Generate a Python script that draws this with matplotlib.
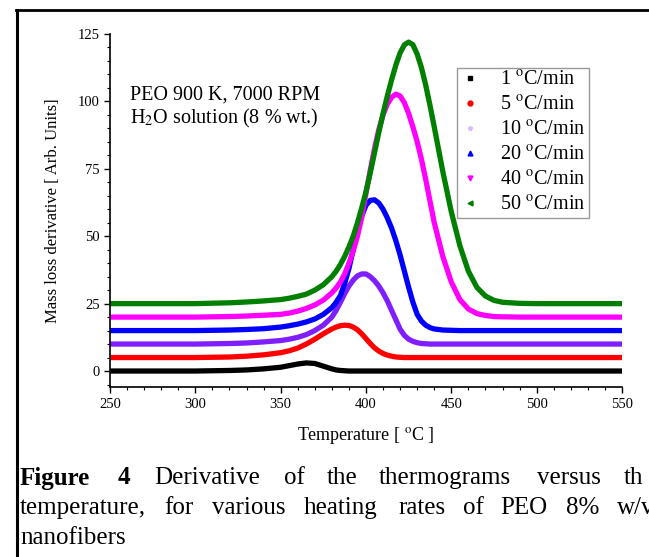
import matplotlib
matplotlib.use('Agg')
import matplotlib.pyplot as plt
from matplotlib.lines import Line2D
from matplotlib.ticker import MultipleLocator

plt.rcParams['font.family'] = ['Liberation Serif', 'DejaVu Serif']
plt.rcParams['mathtext.fontset'] = 'stix'

# temperature grid (degC), finer around the peaks
temp = [250, 300, 320, 330, 340, 350, 355, 360, 365, 370, 375,
        380, 382.5, 385, 387.5, 390, 392.5, 395, 397.5, 400, 402.5, 405, 407.5, 410,
        412.5, 415, 417.5, 420, 422.5, 425, 427.5, 430, 432.5, 435, 437.5, 440,
        445, 450, 455, 460, 465, 470, 475, 480, 490, 500, 550]

# mass loss derivative for each heating rate (arb. units, curves offset by 5)
r1 = [0, 0, 0.2, 0.4, 0.8, 1.4, 2.0, 2.6, 3.0, 2.8, 1.8,
      0.8, 0.4, 0.2, 0.1, 0, 0, 0, 0, 0, 0, 0, 0, 0,
      0, 0, 0, 0, 0, 0, 0, 0, 0, 0, 0, 0,
      0, 0, 0, 0, 0, 0, 0, 0, 0, 0, 0]
r5 = [5, 5, 5.2, 5.5, 6.0, 6.8, 7.5, 8.5, 10.0, 11.8, 13.8,
      15.6, 16.3, 16.8, 17.0, 16.9, 16.3, 15.3, 13.8, 12.0, 10.2, 8.6, 7.4, 6.5,
      5.9, 5.5, 5.2, 5.1, 5.0, 5, 5, 5, 5, 5, 5, 5,
      5, 5, 5, 5, 5, 5, 5, 5, 5, 5, 5]
r10 = [10, 10, 10.2, 10.4, 10.8, 11.3, 11.8, 12.5, 13.5, 15.0, 17.0,
       20.0, 22.5, 25.5, 28.7, 31.5, 33.7, 35.3, 36.0, 36.0, 35.0, 33.5, 31.5, 29.0,
       26.0, 22.5, 19.0, 15.5, 13.2, 11.8, 11.0, 10.5, 10.2, 10.1, 10.0, 10.0,
       10, 10, 10, 10, 10, 10, 10, 10, 10, 10, 10]
r20 = [15, 15, 15.2, 15.4, 15.7, 16.3, 16.8, 17.4, 18.2, 19.3, 21.0,
       23.5, 25.5, 28.0, 32.5, 38.0, 45.0, 52.0, 57.5, 61.5, 63.3, 63.5, 62.3, 60.0,
       56.8, 53.0, 48.3, 43.0, 37.0, 31.0, 25.5, 21.0, 18.5, 17.0, 16.1, 15.6,
       15.2, 15.1, 15.0, 15, 15, 15, 15, 15, 15, 15, 15]
r40 = [20, 20, 20.2, 20.4, 20.7, 21.0, 21.5, 22.2, 23.2, 24.5, 26.3,
       29.0, 30.8, 33.0, 36.0, 40.0, 44.5, 50.0, 57.0, 66.0, 74.5, 82.5, 89.5, 95.0,
       99.0, 101.5, 102.7, 102.0, 99.5, 95.5, 90.5, 85.0, 78.5, 71.0, 63.0, 55.0,
       42.5, 33.0, 26.5, 23.0, 21.3, 20.6, 20.2, 20.1, 20.0, 20.0, 20.0]
r50 = [25, 25, 25.3, 25.6, 26.0, 26.5, 27.0, 27.7, 28.5, 30.0, 32.0,
       35.0, 37.0, 39.5, 42.5, 46.0, 50.0, 55.0, 60.5, 66.5, 73.5, 81.0, 88.5, 95.5,
       102.0, 108.0, 113.5, 118.0, 121.0, 122.0, 121.0, 117.5, 112.5, 106.0, 98.5, 90.5,
       74.0, 59.0, 46.5, 37.0, 31.0, 27.8, 26.2, 25.5, 25.1, 25.0, 25.0]

labels = ['1 $^{\\mathrm{o}}$C/min', '5 $^{\\mathrm{o}}$C/min', '10 $^{\\mathrm{o}}$C/min',
          '20 $^{\\mathrm{o}}$C/min', '40 $^{\\mathrm{o}}$C/min', '50 $^{\\mathrm{o}}$C/min']
series = [r1, r5, r10, r20, r40, r50]
colors = ['black', '#ff0000', '#7f1fff', '#0000ff', '#ff00ff', '#007f00']
mk = ['s', 'o', '*', '^', 'v', '<']
mk_colors = ['black', '#ff0000', '#d8b8ff', '#0000ff', '#ff00ff', '#007f00']

fig = plt.figure(figsize=(6.49, 5.57), dpi=100)
ax = fig.add_axes([110/649, 169.8/557, 512/649, 353.2/557])

for s, c in zip(series, colors):
    ax.plot(temp, s, color=c, lw=3.8, solid_capstyle='round')

ax.set_xlim(250, 550)
ax.set_ylim(-6, 125)
ax.set_xticks([250, 300, 350, 400, 450, 500, 550])
ax.set_yticks([0, 25, 50, 75, 100, 125])
ax.xaxis.set_minor_locator(MultipleLocator(10))
ax.yaxis.set_minor_locator(MultipleLocator(5))
ax.tick_params(which='major', direction='out', length=4, width=1, labelsize=10.5)
ax.tick_params(which='minor', direction='out', length=2.5, width=0.8)
for sp in ['top', 'right']:
    ax.spines[sp].set_visible(False)
ax.spines['left'].set_linewidth(1.2)
ax.spines['bottom'].set_linewidth(1.2)

ax.set_xlabel('Temperature [ $^{\\mathrm{o}}$C ]', fontsize=13, labelpad=10)
ax.set_ylabel('Mass loss derivative [ Arb. Units]', fontsize=12, labelpad=12)

fig.text(130/649, 1-95/557, 'PEO 900 K, 7000 RPM', fontsize=14.5, va='center')
fig.text(130/649, 1-118/557, 'H$_2$O solution (8 % wt.)', fontsize=14.5, va='center')

handles = [Line2D([], [], ls='none', marker=m, color=c, markersize=3.5) for m, c in zip(mk, mk_colors)]
leg = ax.legend(handles, labels, loc='upper left', bbox_to_anchor=(457/649, 1-68/557),
                bbox_transform=fig.transFigure, borderaxespad=0, fontsize=14.5,
                fancybox=False, framealpha=1, edgecolor='#999999', handlelength=1.0,
                handletextpad=1.0, labelspacing=0.29, borderpad=0.15)
leg.get_frame().set_linewidth(1.0)

# page frame around the figure
fig.add_artist(Line2D([17/649, 17/649], [0, 1-10/557], color='black', lw=2.2, transform=fig.transFigure))
fig.add_artist(Line2D([16/649, 1], [1-10/557, 1-10/557], color='black', lw=2.0, transform=fig.transFigure))

# caption, justified word by word (cut off at the right edge as in the source)
cap1 = [('Figure', 20, True), ('4', 118, True), ('Derivative', 154, False), ('of', 284, False),
        ('the', 327, False), ('thermograms', 379, False), ('versus', 537, False), ('th', 624, False)]
cap2 = [('temperature,', 20, False), ('for', 164, False), ('various', 212, False), ('heating', 304, False),
        ('rates', 398, False), ('of', 463, False), ('PEO', 500, False), ('8%', 566, False), ('w/v', 617, False)]
cap3 = [('nanofibers', 20, False)]
for row, yc in [(cap1, 478), (cap2, 508), (cap3, 538)]:
    for w, x, b in row:
        fig.text(x/649, 1-yc/557, w, fontsize=18, va='center',
                 fontweight='bold' if b else 'normal')

fig.savefig('out.png', dpi=100)
